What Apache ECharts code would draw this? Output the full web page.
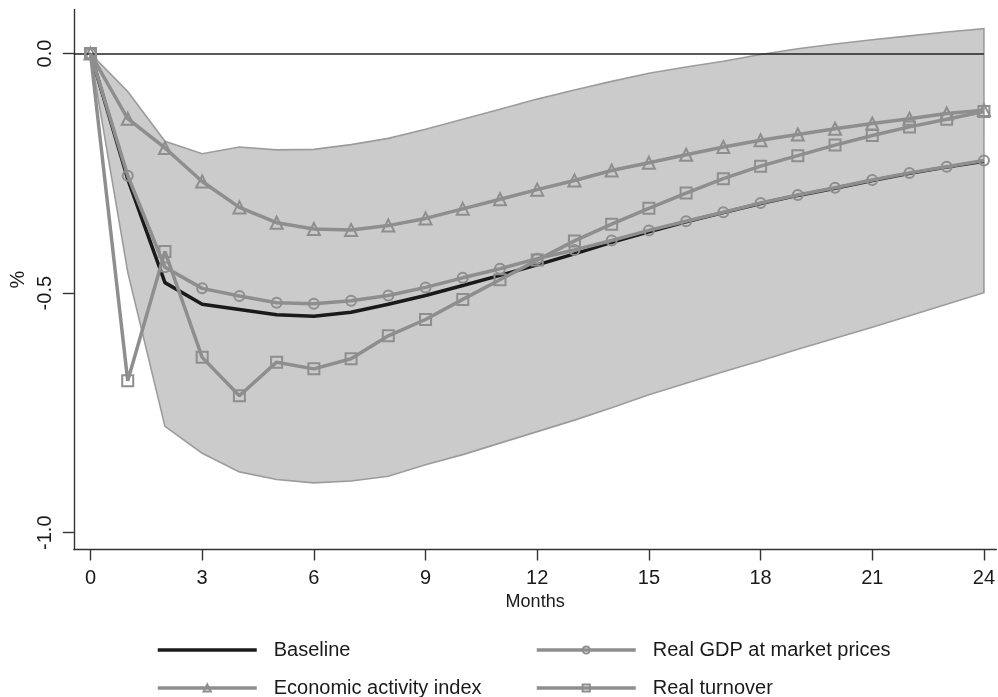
<!DOCTYPE html>
<html>
<head>
<meta charset="utf-8">
<script src="https://cdn.jsdelivr.net/npm/echarts@6/dist/echarts.min.js"></script>
<style>
  html, body { margin: 0; padding: 0; background: #fff; }
  #chart { width: 998px; height: 697px; }
</style>
</head>
<body>
<div id="chart"></div>
<script>
// months after the shock
var months = [0, 1, 2, 3, 4, 5, 6, 7, 8, 9, 10, 11, 12, 13, 14, 15, 16, 17, 18, 19, 20, 21, 22, 23, 24];
var xTicks = [0, 3, 6, 9, 12, 15, 18, 21, 24];
var yTicks = [-1.0, -0.5, 0.0];

// responses (%)
var baseline = [0, -0.262, -0.478, -0.523, -0.534, -0.545, -0.548, -0.540, -0.523, -0.505, -0.484, -0.463, -0.441, -0.418, -0.394, -0.372, -0.351, -0.332, -0.313, -0.296, -0.281, -0.265, -0.250, -0.237, -0.225];
var gdp = [0, -0.255, -0.446, -0.490, -0.506, -0.520, -0.522, -0.516, -0.505, -0.488, -0.468, -0.449, -0.428, -0.410, -0.390, -0.369, -0.350, -0.331, -0.312, -0.295, -0.280, -0.264, -0.249, -0.236, -0.223];
var activity = [0, -0.136, -0.197, -0.267, -0.321, -0.353, -0.366, -0.368, -0.359, -0.344, -0.324, -0.304, -0.284, -0.265, -0.244, -0.228, -0.211, -0.195, -0.181, -0.169, -0.157, -0.146, -0.136, -0.125, -0.118];
var turnover = [0, -0.683, -0.413, -0.634, -0.714, -0.644, -0.658, -0.637, -0.589, -0.555, -0.513, -0.472, -0.431, -0.391, -0.356, -0.323, -0.291, -0.261, -0.235, -0.213, -0.191, -0.171, -0.153, -0.137, -0.121];

// confidence band around the baseline
var bandHi = [0, -0.079, -0.183, -0.209, -0.195, -0.201, -0.200, -0.190, -0.177, -0.158, -0.137, -0.116, -0.095, -0.076, -0.058, -0.041, -0.028, -0.016, -0.002, 0.010, 0.020, 0.029, 0.037, 0.045, 0.052];
var bandLo = [0, -0.456, -0.778, -0.834, -0.873, -0.889, -0.896, -0.892, -0.882, -0.858, -0.837, -0.813, -0.789, -0.765, -0.739, -0.712, -0.688, -0.664, -0.641, -0.617, -0.594, -0.571, -0.547, -0.523, -0.499];

var X_MIN = -0.446, X_MAX = 24.334;
var Y_MIN = -1.035, Y_MAX = 0.092;

function pairs(arr) {
	return months.map(function (m, i) { return [m, arr[i]]; });
}

var FONT = 'Liberation Sans, Arial, sans-serif';
var GREY = '#8e8e8e';
var AXIS = '#333333';

var myChart = echarts.init(document.getElementById('chart'));

var hollow = { color: 'rgba(255,255,255,0)', borderColor: GREY, borderWidth: 2 };

function legendItem(item, left, top) {
	return {
		data: [item],
		left: left,
		top: top,
		padding: 0,
		itemWidth: 99,
		itemHeight: 9,
		lineStyle: { width: 3.5 },
		textStyle: { fontFamily: FONT, fontSize: 20, color: '#1a1a1a', padding: [0, 0, 0, 12] }
	};
}

// polygon of the band, built through the axis scales
function renderBand(params, api) {
	var pts = [];
	for (var i = 0; i < months.length; i++) pts.push(api.coord([months[i], bandHi[i]]));
	for (var j = months.length - 1; j >= 0; j--) pts.push(api.coord([months[j], bandLo[j]]));
	return {
		type: 'polygon',
		shape: { points: pts },
		style: { fill: '#cbcbcb', stroke: '#9c9c9c', lineWidth: 1.6 }
	};
}

myChart.setOption({
	animation: false,
	backgroundColor: '#ffffff',
	grid: { left: 70, top: 9.5, width: 927, height: 540, containLabel: false },
	legend: [
		legendItem({ name: 'Baseline', itemStyle: { opacity: 0 } }, 156, 640),
		legendItem('Real GDP at market prices', 535, 640),
		legendItem('Economic activity index', 156, 678),
		legendItem('Real turnover', 535, 678)
	],
	xAxis: {
		type: 'value',
		min: X_MIN,
		max: X_MAX,
		name: 'Months',
		nameLocation: 'middle',
		nameGap: 38,
		nameTextStyle: { fontFamily: FONT, fontSize: 18, color: '#1a1a1a' },
		splitLine: { show: false },
		axisLine: { show: true, onZero: false, lineStyle: { color: AXIS, width: 1.4 } },
		axisTick: { show: true, length: 11, customValues: xTicks, lineStyle: { color: AXIS, width: 1.4 } },
		axisLabel: { customValues: xTicks, fontFamily: FONT, fontSize: 20, color: '#1a1a1a', margin: 19 }
	},
	yAxis: {
		type: 'value',
		min: Y_MIN,
		max: Y_MAX,
		name: '%',
		nameLocation: 'middle',
		nameGap: 45,
		nameRotate: 90,
		nameTextStyle: { fontFamily: FONT, fontSize: 20, color: '#1a1a1a' },
		splitLine: { show: false },
		axisLine: { show: true, onZero: false, lineStyle: { color: AXIS, width: 1.4 } },
		axisTick: { show: true, length: 11, customValues: yTicks, lineStyle: { color: AXIS, width: 1.4 } },
		axisLabel: {
			customValues: yTicks,
			rotate: 90,
			margin: 18,
			fontFamily: FONT, fontSize: 20, color: '#1a1a1a',
			formatter: function (v) { return v.toFixed(1); }
		}
	},
	series: [
		{
			name: 'band',
			type: 'custom',
			data: [[0, 0]],
			renderItem: renderBand,
			silent: true,
			z: 1
		},
		{
			name: 'zero',
			type: 'line',
			data: [],
			silent: true,
			z: 2,
			markLine: {
				silent: true,
				symbol: 'none',
				label: { show: false },
				lineStyle: { color: '#222', width: 1.6, type: 'solid' },
				data: [[{ coord: [X_MIN, 0] }, { coord: [months[months.length - 1], 0] }]]
			}
		},
		{
			name: 'Baseline',
			type: 'line',
			data: pairs(baseline),
			symbol: 'none',
			color: '#1a1a1a',
			lineStyle: { color: '#1a1a1a', width: 3.5 },
			z: 3
		},
		{
			name: 'Economic activity index',
			type: 'line',
			data: pairs(activity),
			symbol: 'triangle',
			symbolSize: 12,
			color: GREY,
			itemStyle: hollow,
			lineStyle: { color: GREY, width: 3.5 },
			z: 4
		},
		{
			name: 'Real GDP at market prices',
			type: 'line',
			data: pairs(gdp),
			symbol: 'circle',
			symbolSize: 10,
			color: GREY,
			itemStyle: hollow,
			lineStyle: { color: GREY, width: 3.5 },
			z: 5
		},
		{
			name: 'Real turnover',
			type: 'line',
			data: pairs(turnover),
			symbol: 'rect',
			symbolSize: 11,
			color: GREY,
			itemStyle: hollow,
			lineStyle: { color: GREY, width: 3.5 },
			z: 6
		}
	]
});
</script>
</body>
</html>
